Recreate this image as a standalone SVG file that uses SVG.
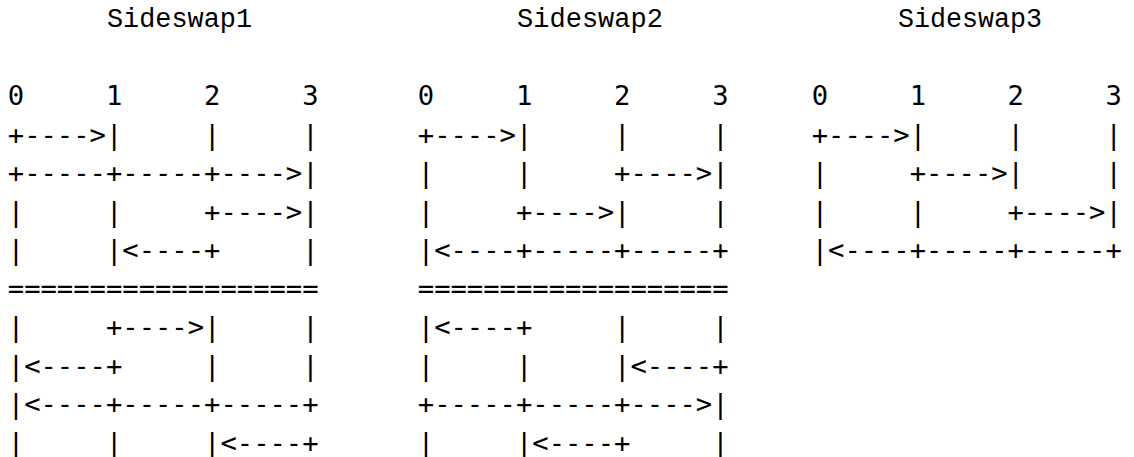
<svg xmlns="http://www.w3.org/2000/svg" width="1134" height="457" viewBox="0 0 1134 457" xml:space="preserve">
<style>
text{white-space:pre}
.t{font-family:"Liberation Mono","DejaVu Sans Mono",monospace;font-size:27px;fill:#000}
.a{font-family:"DejaVu Sans Mono","Liberation Mono",monospace;font-size:27.2px;fill:#000}
</style>
<rect width="1134" height="457" fill="#fff"/>
<g id="sideswap1">
<text class="t" x="107" y="27" textLength="145" lengthAdjust="spacingAndGlyphs">Sideswap1</text>
<g transform="translate(7.8,0)">
<text class="a" xml:space="preserve" x="0" y="105" textLength="310.8" lengthAdjust="spacing">0     1     2     3</text>
<text class="a" xml:space="preserve" x="0" y="143.5" textLength="310.8" lengthAdjust="spacing">+----&gt;|     |     |</text>
<text class="a" xml:space="preserve" x="0" y="182" textLength="310.8" lengthAdjust="spacing">+-----+-----+----&gt;|</text>
<text class="a" xml:space="preserve" x="0" y="220.5" textLength="310.8" lengthAdjust="spacing">|     |     +----&gt;|</text>
<text class="a" xml:space="preserve" x="0" y="259" textLength="310.8" lengthAdjust="spacing">|     |&lt;----+     |</text>
<text class="a" xml:space="preserve" x="0" y="297.5" textLength="310.8" lengthAdjust="spacing">===================</text>
<text class="a" xml:space="preserve" x="0" y="336" textLength="310.8" lengthAdjust="spacing">|     +----&gt;|     |</text>
<text class="a" xml:space="preserve" x="0" y="374.5" textLength="310.8" lengthAdjust="spacing">|&lt;----+     |     |</text>
<text class="a" xml:space="preserve" x="0" y="413" textLength="310.8" lengthAdjust="spacing">|&lt;----+-----+-----+</text>
<text class="a" xml:space="preserve" x="0" y="451.5" textLength="310.8" lengthAdjust="spacing">|     |     |&lt;----+</text>
</g>
</g>
<g id="sideswap2">
<text class="t" x="517" y="27" textLength="146" lengthAdjust="spacingAndGlyphs">Sideswap2</text>
<g transform="translate(417.8,0)">
<text class="a" xml:space="preserve" x="0" y="105" textLength="310.8" lengthAdjust="spacing">0     1     2     3</text>
<text class="a" xml:space="preserve" x="0" y="143.5" textLength="310.8" lengthAdjust="spacing">+----&gt;|     |     |</text>
<text class="a" xml:space="preserve" x="0" y="182" textLength="310.8" lengthAdjust="spacing">|     |     +----&gt;|</text>
<text class="a" xml:space="preserve" x="0" y="220.5" textLength="310.8" lengthAdjust="spacing">|     +----&gt;|     |</text>
<text class="a" xml:space="preserve" x="0" y="259" textLength="310.8" lengthAdjust="spacing">|&lt;----+-----+-----+</text>
<text class="a" xml:space="preserve" x="0" y="297.5" textLength="310.8" lengthAdjust="spacing">===================</text>
<text class="a" xml:space="preserve" x="0" y="336" textLength="310.8" lengthAdjust="spacing">|&lt;----+     |     |</text>
<text class="a" xml:space="preserve" x="0" y="374.5" textLength="310.8" lengthAdjust="spacing">|     |     |&lt;----+</text>
<text class="a" xml:space="preserve" x="0" y="413" textLength="310.8" lengthAdjust="spacing">+-----+-----+----&gt;|</text>
<text class="a" xml:space="preserve" x="0" y="451.5" textLength="310.8" lengthAdjust="spacing">|     |&lt;----+     |</text>
</g>
</g>
<g id="sideswap3">
<text class="t" x="898" y="27" textLength="144" lengthAdjust="spacingAndGlyphs">Sideswap3</text>
<g transform="translate(811.8,0)">
<text class="a" xml:space="preserve" x="0" y="105" textLength="310" lengthAdjust="spacing">0     1     2     3</text>
<text class="a" xml:space="preserve" x="0" y="143.5" textLength="310" lengthAdjust="spacing">+----&gt;|     |     |</text>
<text class="a" xml:space="preserve" x="0" y="182" textLength="310" lengthAdjust="spacing">|     +----&gt;|     |</text>
<text class="a" xml:space="preserve" x="0" y="220.5" textLength="310" lengthAdjust="spacing">|     |     +----&gt;|</text>
<text class="a" xml:space="preserve" x="0" y="259" textLength="310" lengthAdjust="spacing">|&lt;----+-----+-----+</text>
</g>
</g>
</svg>
